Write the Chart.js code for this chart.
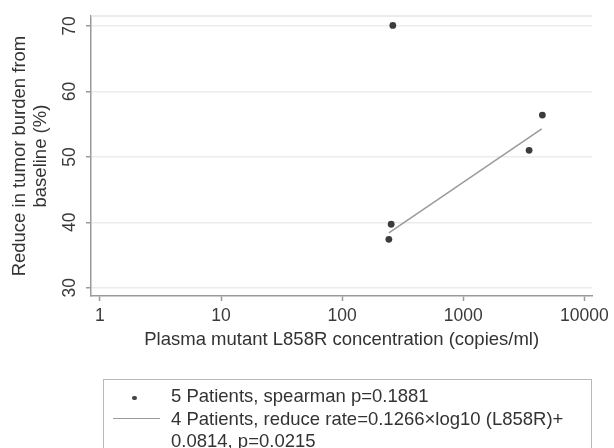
<!DOCTYPE html>
<html>
<head>
<meta charset="utf-8">
<script src="https://cdn.jsdelivr.net/npm/chart.js@4/dist/chart.umd.min.js"></script>
<style>
  html, body { margin: 0; padding: 0; background: #fff; }
  #wrap { position: relative; width: 614px; height: 448px; overflow: hidden; font-family: "Liberation Sans", Arial, sans-serif; color: #333; }
  #chart { position: absolute; left: 0; top: 0; }
  .legend-box { position: absolute; left: 103px; top: 379px; width: 489px; height: 100px; box-sizing: border-box; border: 1px solid #b8b8b8; }
  .legend-text { position: absolute; left: 171px; top: 385px; font-size: 18.5px; line-height: 22.5px; white-space: nowrap; color: #333; }
  .legend-dot { position: absolute; left: 132px; top: 395.5px; width: 4.5px; height: 4.5px; border-radius: 50%; background: #444; }
  .legend-line { position: absolute; left: 113px; top: 417.5px; width: 47px; height: 1.5px; background: #9a9a9a; }
</style>
</head>
<body>
<div id="wrap">
  <canvas id="chart" width="614" height="448"></canvas>
  <div class="legend-box"></div>
  <div class="legend-dot"></div>
  <div class="legend-line"></div>
  <div class="legend-text">5 Patients, spearman p=0.1881<br>4 Patients, reduce rate=0.1266×log10 (L858R)+<br>0.0814, p=0.0215</div>
</div>
<script>
// patients: plasma L858R copies/ml vs tumour burden reduction (%)
const patientCopies = [262, 254, 243, 3495, 4500]
const patientReduce = [70.1, 39.7, 37.4, 51.0, 56.4]

// fitted line end points (4 patients)
const fitCopies = [243, 4443]
const fitReduce = [38.4, 54.3]

const xTicks = [1, 10, 100, 1000, 10000]
const yTicks = [30, 40, 50, 60, 70]

const font = '"Liberation Sans", Arial, sans-serif'

// light line along the top of the plot area
const topFrame = {
  id: 'topFrame',
  beforeDatasetsDraw (chart) {
    const { ctx, chartArea } = chart
    ctx.save()
    ctx.strokeStyle = '#e6e6e6'
    ctx.lineWidth = 1.5
    ctx.beginPath()
    ctx.moveTo(chartArea.left, chartArea.top)
    ctx.lineTo(chartArea.right, chartArea.top)
    ctx.stroke()
    ctx.restore()
  }
}

new Chart(document.getElementById('chart').getContext('2d'), {
  type: 'scatter',
  data: {
    datasets: [
      {
        label: '5 Patients, spearman p=0.1881',
        data: patientCopies.map((x, i) => ({ x, y: patientReduce[i] })),
        pointRadius: 3.4,
        pointBackgroundColor: '#3c3c3c',
        pointBorderWidth: 0,
        showLine: false,
        order: 1
      },
      {
        label: '4 Patients, reduce rate=0.1266×log10 (L858R)+0.0814, p=0.0215',
        data: fitCopies.map((x, i) => ({ x, y: fitReduce[i] })),
        showLine: true,
        borderColor: '#9a9a9a',
        borderWidth: 1.5,
        pointRadius: 0,
        fill: false,
        order: 2
      }
    ]
  },
  options: {
    responsive: false,
    animation: false,
    devicePixelRatio: 1,
    layout: { padding: { top: 16, right: 18, bottom: 96, left: 0 } },
    scales: {
      x: {
        type: 'logarithmic',
        min: 0.844,
        max: 11640,
        afterBuildTicks: scale => { scale.ticks = xTicks.map(v => ({ value: v })) },
        afterFit: scale => { scale.height = 56 },
        grid: { drawOnChartArea: false, drawTicks: true, tickLength: 5, tickColor: '#9a9a9a', tickWidth: 1.5 },
        border: { color: '#9a9a9a', width: 1.5 },
        ticks: {
          padding: 5,
          color: '#3a3a3a',
          font: { family: font, size: 17.5 },
          maxRotation: 0,
          autoSkip: false,
          callback: v => String(v)
        },
        title: {
          display: true,
          text: 'Plasma mutant L858R concentration (copies/ml)',
          color: '#333',
          font: { family: font, size: 18.5 },
          padding: { top: 0, bottom: 1 }
        }
      },
      y: {
        min: 28.73,
        max: 71.53,
        afterBuildTicks: scale => { scale.ticks = yTicks.map(v => ({ value: v })) },
        afterFit: scale => { scale.width = 91 },
        grid: { color: '#ececec', lineWidth: 1.5, drawTicks: true, tickLength: 5, tickColor: '#9a9a9a', tickWidth: 1.5 },
        border: { color: '#9a9a9a', width: 1.5 },
        ticks: {
          padding: 5.6,
          color: '#3a3a3a',
          font: { family: font, size: 17.5 },
          minRotation: 90,
          maxRotation: 90,
          crossAlign: 'center',
          callback: v => String(v)
        },
        title: {
          display: true,
          text: ['Reduce in tumor burden from', 'baseline (%)'],
          color: '#333',
          font: { family: font, size: 18.5, lineHeight: 1.1 },
          padding: { top: 10, bottom: 0 }
        }
      }
    },
    plugins: {
      legend: { display: false },
      tooltip: { enabled: false }
    }
  },
  plugins: [topFrame]
})
</script>
</body>
</html>
